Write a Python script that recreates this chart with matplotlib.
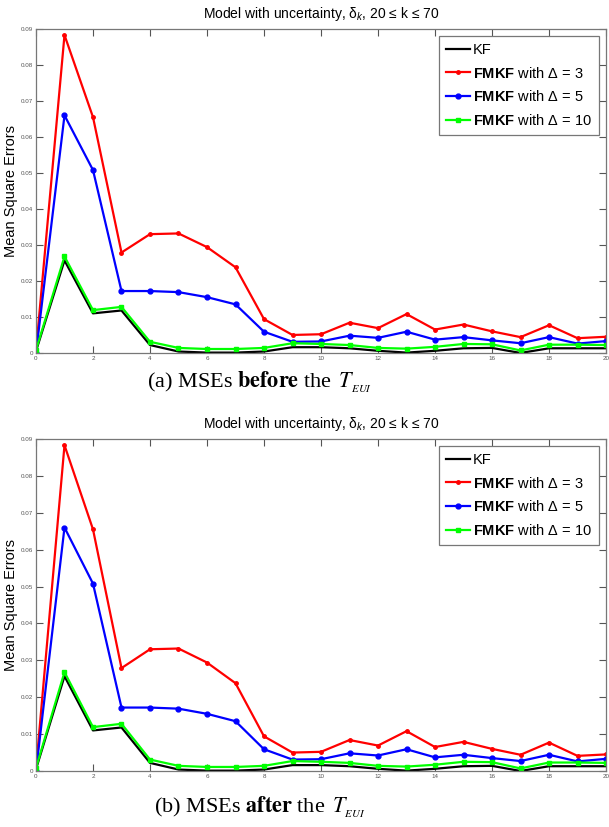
import numpy as np
import matplotlib.pyplot as plt

plt.rcParams['font.family'] = ['Liberation Sans', 'DejaVu Sans']
plt.rcParams['mathtext.fontset'] = 'custom'
plt.rcParams['mathtext.rm'] = 'Liberation Sans'
plt.rcParams['mathtext.it'] = 'Liberation Sans:italic'
plt.rcParams['mathtext.bf'] = 'Liberation Sans:bold'

# MSE per time step
k = np.arange(21)
mse_kf = [0.0005, 0.0257, 0.0110, 0.0118, 0.0022, 0.0004, 0.0001, 0.0001, 0.0004, 0.0016, 0.0016,
          0.0013, 0.0006, 0.0001, 0.0006, 0.0013, 0.0014, 0.0000, 0.0013, 0.0013, 0.0013]
mse_d3 = [0.0005, 0.0883, 0.0655, 0.0279, 0.0330, 0.0332, 0.0294, 0.0238, 0.0094, 0.0050, 0.0052,
          0.0084, 0.0069, 0.0108, 0.0065, 0.0079, 0.0060, 0.0044, 0.0077, 0.0041, 0.0045]
mse_d5 = [0.0000, 0.0660, 0.0508, 0.0172, 0.0172, 0.0169, 0.0155, 0.0135, 0.0059, 0.0031, 0.0032,
          0.0048, 0.0042, 0.0059, 0.0037, 0.0044, 0.0035, 0.0027, 0.0044, 0.0026, 0.0033]
mse_d10 = [0.0008, 0.0268, 0.0119, 0.0128, 0.0031, 0.0014, 0.0011, 0.0011, 0.0014, 0.0027, 0.0025,
           0.0022, 0.0014, 0.0012, 0.0017, 0.0025, 0.0024, 0.0007, 0.0023, 0.0023, 0.0022]

labels = ['KF', r'$\mathbf{FMKF}$ with Δ = 3', r'$\mathbf{FMKF}$ with Δ = 5', r'$\mathbf{FMKF}$ with Δ = 10']
title = 'Model with uncertainty, δ$_k$, 20 ≤ k ≤ 70'
captions = [r'(a) MSEs $\mathbf{before}$ the $\,T_{_{EUI}}$', r'(b) MSEs $\mathbf{after}$ the $\,T_{_{EUI}}$']

fig = plt.figure(figsize=(6.09, 8.27), dpi=100)
positions = [[0.0591, 0.5732, 0.936, 0.3918], [0.0591, 0.0677, 0.936, 0.4015]]
caption_xy = [(147 / 609, 1 - 382 / 827), (154 / 609, 1 - 807 / 827)]

for pos, cap, cxy in zip(positions, captions, caption_xy):
    ax = fig.add_axes(pos)
    ax.plot(k, mse_kf, color='black', lw=1.6, label=labels[0])
    ax.plot(k, mse_d3, color='red', lw=1.6, marker='.', ms=5, label=labels[1])
    ax.plot(k, mse_d5, color='blue', lw=1.6, marker='o', ms=3.5, label=labels[2])
    ax.plot(k, mse_d10, color='#00ff00', lw=1.6, marker='s', ms=3.5, label=labels[3])

    ax.set_xlim(0, 20)
    ax.set_ylim(0, 0.09)
    ax.set_xticks(np.arange(0, 21, 2))
    ax.set_yticks(np.arange(0, 0.091, 0.01))
    ax.set_yticklabels(['0'] + ['%.2f' % v for v in np.arange(0.01, 0.091, 0.01)])
    ax.tick_params(direction='in', length=5, width=0.8, labelsize=4.5, colors='#555555',
                   top=True, right=True, pad=2)
    for s in ax.spines.values():
        s.set_color('#777777')
        s.set_linewidth(0.9)

    ax.set_ylabel('Mean Square Errors', fontsize=10.5)
    ax.yaxis.set_label_coords(-0.0316, 0.5)
    ax.set_title(title, fontsize=10, pad=8)

    leg = ax.legend(loc='upper right', fontsize=10.5, fancybox=False, edgecolor='#777777',
                    framealpha=1, handlelength=1.7, handletextpad=0.2, labelspacing=0.6,
                    borderpad=0.45, borderaxespad=0.5)
    leg.get_frame().set_linewidth(0.9)

    fig.text(cxy[0], cxy[1], cap, ha='left', va='center', fontsize=16,
             family='Liberation Serif', math_fontfamily='stix')

fig.savefig('out.png', dpi=100)
